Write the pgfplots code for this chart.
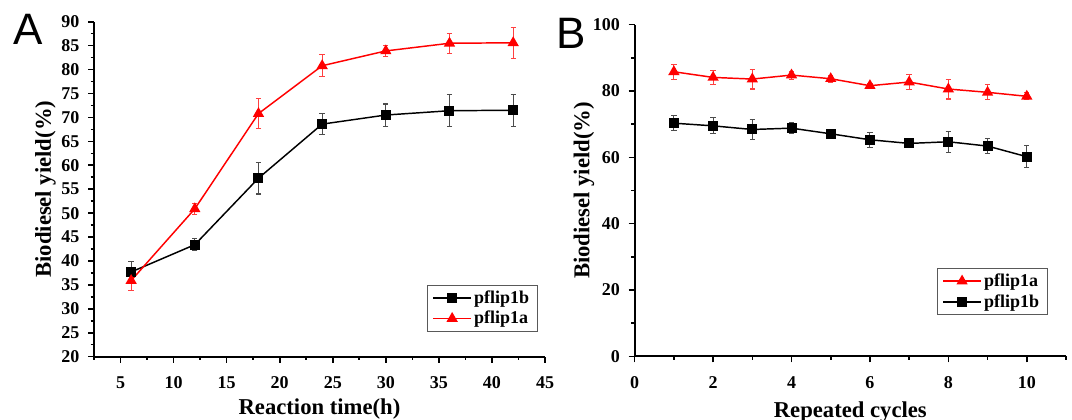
\documentclass[border=0pt]{standalone}
\usepackage{fontspec}
\setmainfont{Liberation Serif}
\newfontfamily\letterfont{Liberation Sans}
\usepackage{pgfplots}
\pgfplotsset{compat=1.18}
\usepackage{pgfplotstable}

\pgfplotstableread{
x y e
6 37.7 2.1
12 43.4 1.2
18 57.3 3.3
24 68.6 2.2
30 70.5 2.3
36 71.4 3.3
42 71.5 3.3
}\Ab
\pgfplotstableread{
x y e
6 35.9 2.1
12 50.9 1.2
18 70.8 3.2
24 80.8 2.3
30 83.9 1.2
36 85.5 2.1
42 85.6 3.2
}\Aa
\pgfplotstableread{
x y e
1 85.8 2.2
2 84.1 2.0
3 83.6 3.0
4 84.8 1.2
5 83.7 1.0
6 81.6 0.6
7 82.7 2.2
8 80.6 3.0
9 79.6 2.3
10 78.4 1.1
}\Ba
\pgfplotstableread{
x y e
1 70.3 2.3
2 69.5 2.4
3 68.4 3.1
4 68.8 1.6
5 67.1 1.1
6 65.3 2.3
7 64.2 1.1
8 64.7 3.2
9 63.4 2.3
10 60.2 3.3
}\Bb

\pgfplotsset{
  mystyle/.style={
    scale only axis,
    anchor=south west,
    axis x line=bottom,
    axis y line=left,
    axis line style={-, line width=1.5pt},
    tick align=outside,
    major tick length=4.5pt,
    minor tick length=2.5pt,
    every tick/.style={black, line width=1.2pt},
    /pgf/number format/assume math mode=true,
    tick label style={font=\fontsize{13.5}{15}\selectfont\bfseries},
    xticklabel style={yshift=-7pt},
    yticklabel style={xshift=-3pt},
    label style={font=\fontsize{17}{20}\selectfont\bfseries},
    clip=false,
    legend style={font=\fontsize{13.5}{15}\selectfont\bfseries, draw=black!65, line width=0.8pt,
      inner xsep=4pt, inner ysep=2pt, row sep=0.5pt},
    legend cell align=left,
    legend image code/.code={\draw[mark repeat=2,mark phase=2] plot coordinates {(0pt,0pt) (14pt,0pt) (28pt,0pt)};},
  },
  blk/.style={black, line width=1.1pt, mark=square*, mark size=3.2pt, mark options={solid, fill=black},
    error bars/.cd, y dir=both, y explicit,
    error bar style={black!70, line width=0.8pt},
    error mark options={rotate=90, mark size=2pt, black!70, line width=0.8pt}},
  rd/.style={red, line width=1.1pt, mark=triangle*, mark size=3.8pt, mark options={solid, fill=red},
    error bars/.cd, y dir=both, y explicit,
    error bar style={red!75, line width=0.8pt},
    error mark options={rotate=90, mark size=2pt, red!75, line width=0.8pt}},
}

\begin{document}
\begin{tikzpicture}
\path[use as bounding box] (0pt,0pt) rectangle (804pt,315pt);

\begin{axis}[mystyle,
  at={(70.5pt,47.5pt)}, width=338.25pt, height=251.2pt,
  xmin=2.5, xmax=45, ymin=20, ymax=90,
  xtick={5,10,...,45}, minor xtick={2.5,7.5,...,42.5},
  ytick={20,25,...,90}, minor ytick={22.5,27.5,...,87.5},
  xlabel={Reaction time(h)}, ylabel={Biodiesel yield(\%)},
  xlabel style={at={(axis description cs:0.5,0)}, anchor=center, yshift=-39.5pt},
  ylabel style={at={(axis description cs:0,0.5)}, anchor=center, yshift=36.4pt},
  legend style={at={(axis description cs:0.984,0.0745)}, anchor=south east},
]
\addplot+[blk] table[x=x, y=y, y error=e] {\Ab};
\addlegendentry{pflip1b}
\addplot+[rd] table[x=x, y=y, y error=e] {\Aa};
\addlegendentry{pflip1a}
\end{axis}

\begin{axis}[mystyle,
  at={(476pt,47.7pt)}, width=323.5pt, height=248.8pt,
  xmin=0, xmax=11, ymin=0, ymax=100,
  xtick={0,2,...,10}, minor xtick={1,3,...,11},
  ytick={0,20,...,100}, minor ytick={10,30,...,90},
  xlabel={Repeated cycles}, ylabel={Biodiesel yield(\%)},
  xlabel style={at={(axis description cs:0.5,0)}, anchor=center, yshift=-41.5pt},
  ylabel style={at={(axis description cs:0,0.5)}, anchor=center, yshift=38pt},
  legend style={at={(axis description cs:0.9576,0.1248)}, anchor=south east},
]
\addplot+[rd] table[x=x, y=y, y error=e] {\Ba};
\addlegendentry{pflip1a}
\addplot+[blk] table[x=x, y=y, y error=e] {\Bb};
\addlegendentry{pflip1b}
\end{axis}

\node[font=\fontsize{33}{36}\selectfont\letterfont] at (21.4pt,293.25pt) {A};
\node[font=\fontsize{33}{36}\selectfont\letterfont] at (428.25pt,290.25pt) {B};
\end{tikzpicture}
\end{document}
